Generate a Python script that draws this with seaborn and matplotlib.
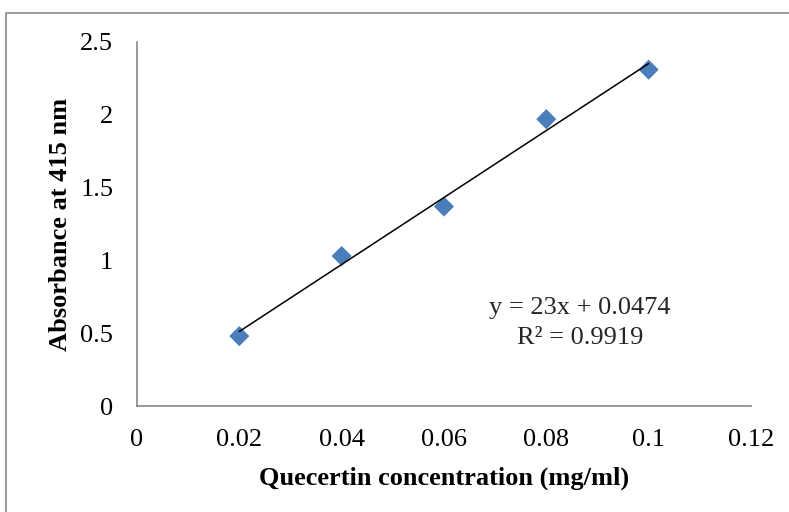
import matplotlib
matplotlib.use("Agg")
import matplotlib.pyplot as plt
import numpy as np
import pandas as pd
import seaborn as sns
from matplotlib.patches import Rectangle

# data
concentration = [0.02, 0.04, 0.06, 0.08, 0.10]
absorbance = [0.48, 1.03, 1.37, 1.97, 2.31]
x_ticks = [0, 0.02, 0.04, 0.06, 0.08, 0.1, 0.12]
x_tick_labels = ["0", "0.02", "0.04", "0.06", "0.08", "0.1", "0.12"]
y_ticks = [0, 0.5, 1, 1.5, 2, 2.5]
y_tick_labels = ["0", "0.5", "1", "1.5", "2", "2.5"]
equation_text = "y = 23x + 0.0474"
r2_text = "R\u00b2 = 0.9919"


def draw():
    data = pd.DataFrame({"conc": concentration, "abs": absorbance})

    sns.set_theme(style="white")
    plt.rcParams["font.family"] = ["Liberation Serif", "DejaVu Serif"]

    fig = plt.figure(figsize=(7.89, 5.12), dpi=100)
    ax = fig.add_axes([0.1736, 0.207, 0.7782, 0.711])

    # outer chart border (only the left and top edges are in view)
    fig.patches.append(Rectangle((6 / 789, -0.1), 1.2, 1 - 13 / 512 + 0.1,
                                 transform=fig.transFigure, fill=False,
                                 edgecolor="#8c8c8c", linewidth=1.2))

    # trendline
    sns.regplot(x="conc", y="abs", data=data, ci=None, scatter=False,
                truncate=True, color="black", line_kws={"linewidth": 1.1}, ax=ax)

    # points
    sns.scatterplot(x="conc", y="abs", data=data, marker="D", s=105,
                    color="#4a7ebb", edgecolor="none", ax=ax, zorder=1)

    ax.set_xlim(0, 0.12)
    ax.set_ylim(0, 2.5)
    ax.set_xticks(x_ticks)
    ax.set_xticklabels(x_tick_labels)
    ax.set_yticks(y_ticks)
    ax.set_yticklabels(y_tick_labels)
    ax.tick_params(axis="both", labelsize=19, length=0, colors="black")
    ax.tick_params(axis="x", pad=16.5)
    ax.tick_params(axis="y", pad=17)

    for side in ["top", "right"]:
        ax.spines[side].set_visible(False)
    for side in ["left", "bottom"]:
        ax.spines[side].set_color("#868686")
        ax.spines[side].set_linewidth(1.2)

    ax.set_xlabel("Quecertin concentration (mg/ml)", fontsize=19, fontweight="bold",
                  labelpad=11, color="black")
    ax.set_ylabel("Absorbance at 415 nm", fontsize=19, fontweight="bold",
                  labelpad=6, color="black")

    ax.text(0.0866, 0.632, equation_text, fontsize=19, ha="center", va="baseline")
    ax.text(0.0866, 0.426, r2_text, fontsize=19, ha="center", va="baseline")

    fig.savefig("out.png", dpi=100)


if __name__ == "__main__":
    draw()
